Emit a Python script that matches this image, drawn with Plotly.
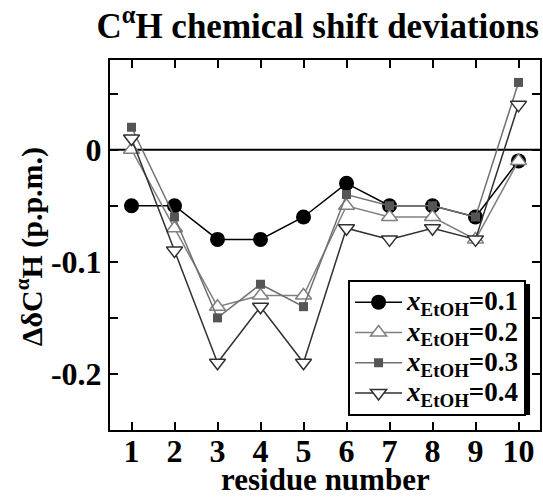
import plotly.graph_objects as go

residues = [1, 2, 3, 4, 5, 6, 7, 8, 9, 10]
x01 = [-0.05, -0.05, -0.08, -0.08, -0.06, -0.03, -0.05, -0.05, -0.06, -0.01]
x02 = [0.0, -0.07, -0.14, -0.13, -0.13, -0.05, -0.06, -0.06, -0.08, -0.01]
x03 = [0.02, -0.06, -0.15, -0.12, -0.14, -0.04, -0.05, -0.05, -0.06, 0.06]
x04 = [0.01, -0.09, -0.19, -0.14, -0.19, -0.07, -0.08, -0.07, -0.08, 0.04]
fractions = ["0.1", "0.2", "0.3", "0.4"]
yticks = [0.05, 0.0, -0.05, -0.1, -0.15, -0.2]
yticktext = ["", "0", "", "-0.1", "", "-0.2"]

names = ['<span style="font-size:27px"><i>x</i><sub>EtOH</sub>=' + f + '</span>'
         for f in fractions]

FONT = "Liberation Serif"
fig = go.Figure()
fig.add_trace(go.Scatter(x=residues, y=x01, name=names[0], mode="lines+markers",
                         line=dict(color="black", width=1.5),
                         marker=dict(symbol="circle", size=15, color="black")))
fig.add_trace(go.Scatter(x=residues, y=x02, name=names[1], mode="lines+markers",
                         line=dict(color="#808080", width=1.5),
                         marker=dict(symbol="triangle-up", size=14, color="white",
                                     line=dict(color="#808080", width=1.5))))
fig.add_trace(go.Scatter(x=residues, y=x03, name=names[2], mode="lines+markers",
                         line=dict(color="#707070", width=1.5),
                         marker=dict(symbol="square", size=9, color="#555555")))
fig.add_trace(go.Scatter(x=residues, y=x04, name=names[3], mode="lines+markers",
                         line=dict(color="#303030", width=1.5),
                         marker=dict(symbol="triangle-down", size=14, color="white",
                                     line=dict(color="#303030", width=1.5))))

fig.add_hline(y=0, line=dict(color="black", width=2), layer="below")

fig.update_layout(
    width=543, height=499,
    margin=dict(l=110, r=1, t=60, b=69),
    paper_bgcolor="white", plot_bgcolor="white",
    font=dict(family=FONT, color="black"),
    title=dict(text="<b>C<sup>α</sup>H chemical shift deviations</b>",
               x=0.585, xanchor="center", y=0.948, yanchor="middle",
               font=dict(size=35, family=FONT)),
    xaxis=dict(range=[0.5, 10.5], tickvals=residues, ticks="inside", ticklen=8,
               tickwidth=1.5, tickcolor="black", mirror="allticks", showline=True,
               linecolor="black", linewidth=2, showgrid=False, zeroline=False,
               ticklabelstandoff=-8,
               tickfont=dict(size=32, family=FONT, weight="bold")),
    yaxis=dict(range=[-0.25, 0.08], tickvals=yticks, ticktext=yticktext, ticks="inside",
               ticklen=8, tickwidth=1.5, tickcolor="black", mirror="allticks",
               showline=True, linecolor="black", linewidth=2, showgrid=False,
               zeroline=False,
               tickfont=dict(size=32, family=FONT, weight="bold")),
    legend=dict(x=(528 - 110) / 432, y=(430 - 280) / 370, xanchor="right", yanchor="top",
                bgcolor="white", bordercolor="black", borderwidth=2,
                font=dict(size=21, family=FONT, weight="bold"),
                itemwidth=47, tracegroupgap=0),
    showlegend=True,
)

# legend drop shadow
fig.add_shape(type="rect", xref="paper", yref="paper",
              x0=(350 - 110) / 432, x1=(532 - 110) / 432,
              y0=(430 - 415) / 370, y1=(430 - 284) / 370,
              fillcolor="black", line=dict(width=0), layer="above")

fig.add_annotation(text="<b>residue number</b>", xref="paper", yref="paper",
                   x=0.5, y=(430 - 499) / 370, xanchor="center", yanchor="bottom",
                   showarrow=False, font=dict(size=31, family=FONT))
fig.add_annotation(text="<b>ΔδC<sup>α</sup>H (p.p.m.)</b>", xref="paper", yref="paper",
                   x=(30 - 110) / 432, y=(430 - 247) / 370, xanchor="center",
                   yanchor="middle", textangle=-90, showarrow=False,
                   font=dict(size=30, family=FONT))

fig.write_html("out.html")
